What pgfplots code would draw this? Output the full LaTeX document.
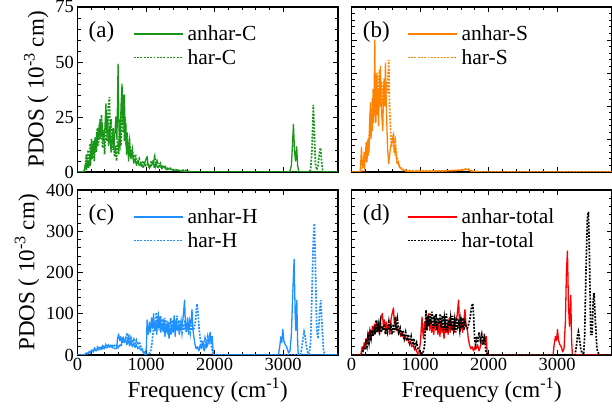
\documentclass[border=0pt]{standalone}
\usepackage{fontspec}
\setmainfont{Liberation Serif}
\usepackage{pgfplots}
\pgfplotsset{compat=1.18}

\definecolor{cgreen}{RGB}{25,150,25}
\definecolor{corange}{RGB}{255,130,0}
\definecolor{cblue}{RGB}{30,144,255}
\definecolor{cred}{RGB}{255,0,0}

\tikzset{
  sol/.style={line width=1.3pt, line join=round},
  dot/.style={line width=1.7pt, dash pattern=on 1.9pt off 1.4pt},
  plab/.style={anchor=west, inner sep=0pt, font=\fontsize{23}{26}\selectfont},
}
\pgfplotsset{
 legend image code/.code={\draw[#1] (0pt,0pt) -- (49pt,0pt);},
 pdos/.style={
  scale only axis, width=260.5pt, height=165pt,
  xmin=0, xmax=3800, ymin=0,
  xtick={0,1000,2000,3000}, minor x tick num=4, minor y tick num=4,
  tick align=inside,
  major tick length=5pt, minor tick length=3pt,
  axis line style={line width=1.2pt},
  every tick/.style={line width=0.9pt, black},
  tick label style={font=\fontsize{18.5}{21}\selectfont},
  /pgf/number format/assume math mode=true,
  /pgf/number format/1000 sep={},
  label style={font=\fontsize{23}{26}\selectfont},
  legend style={draw=none, fill=none, font=\fontsize{21.5}{24}\selectfont,
    at={(rel axis cs:0.212,0.893)}, anchor=north west, inner sep=0pt,
    nodes={inner sep=1pt}, row sep=5pt, column sep=3pt},
  legend cell align=left,
 },
}

\begin{document}
\begin{tikzpicture}
\path[use as bounding box] (0,0) rectangle (612pt,417pt);

% ---------------- (a) C
\begin{axis}[pdos, at={(77.5pt,245pt)}, anchor=south west,
  ymax=75, ytick={0,25,50,75}, xticklabels={},
  ylabel={PDOS ( 10\textsuperscript{-3} cm)}]
\addplot[cgreen, sol] coordinates {
(0,0) (80,0) (100,1) (120,4) (130,1) (150,5) (165,2) (180,8) (190,3) (205,11)
(215,6) (230,14) (240,8) (255,15) (265,10) (280,18) (290,12) (300,20) (310,15)
(330,24) (345,17) (360,22) (375,14) (400,20) (415,31) (425,18) (440,25) (455,12)
(470,20) (490,9) (510,18) (530,10) (560,25) (575,15) (592,49) (605,20) (620,10)
(635,30) (650,40) (660,22) (670,28) (684,35) (695,15) (705,22) (715,8) (730,14)
(745,5) (760,12) (780,6) (800,10) (820,4) (840,6) (860,3) (880,5) (900,3) (930,4)
(960,2) (990,5) (1015,7) (1030,3) (1050,2) (1080,3) (1100,5) (1120,2) (1140,4)
(1170,2) (1200,3) (1230,1.5) (1260,2.5) (1300,1) (1340,1.5) (1400,0.8) (1450,1)
(1500,0.5) (1600,0.2) (1700,0) (3080,0) (3100,0.5) (3120,3) (3135,12) (3150,21.7)
(3165,10) (3180,5) (3198,11.5) (3210,3) (3230,0) (3800,0)};
\addlegendentry{anhar-C}
\addplot[cgreen, dot] coordinates {
(0,0) (100,0) (115,3) (130,8) (140,2) (155,10) (170,4) (185,13) (195,6) (205,15)
(215,8) (230,12) (245,5) (260,16) (275,9) (290,20) (305,12) (320,22) (335,15)
(350,26) (365,11) (380,19) (395,8) (415,24) (430,14) (450,30) (466,34) (475,18)
(490,24) (505,10) (520,20) (540,7) (555,12) (570,5) (585,15) (600,8) (620,24)
(635,12) (650,33) (660,18) (674,35) (685,14) (695,25) (710,12) (725,18) (740,9)
(760,14) (780,6) (800,10) (820,5) (845,8) (870,4) (900,6) (930,3) (960,5) (990,3)
(1020,4) (1050,2) (1080,5) (1100,4) (1126,7) (1140,3) (1160,5) (1185,2.5) (1210,4)
(1240,2) (1270,3) (1300,1.5) (1340,2) (1380,1) (1420,1.2) (1460,0.8) (1500,0.6)
(1560,1) (1600,0.3) (1700,0) (3380,0) (3400,1) (3420,10) (3440,30.5) (3455,18)
(3470,4) (3490,1) (3510,3) (3530,9) (3545,11) (3560,5) (3580,0) (3800,0)};
\addlegendentry{har-C}
\node[plab] at (rel axis cs:0.042,0.848) {(a)};
\end{axis}

% ---------------- (b) S
\begin{axis}[pdos, at={(351.5pt,245pt)}, anchor=south west,
  ymax=100, ytick={0,20,40,60,80,100}, xticklabels={}, yticklabels={}]
\addplot[corange, sol] coordinates {
(0,0) (120,0) (131,2) (146,15) (155,5) (170,3) (185,12) (200,8) (214,18) (225,6)
(240,20) (255,12) (265,30) (277,42) (285,20) (295,38) (305,25) (315,50) (325,30)
(340,80) (348,40) (355,30) (365,55) (375,35) (385,50) (395,28) (408,58) (415,40)
(422,64) (430,45) (440,35) (456,25) (465,45) (475,55) (485,40) (495,66) (505,45)
(515,30) (525,15) (543,5) (555,10) (570,15) (590,18) (612,23) (625,12) (640,15)
(650,10) (665,5) (680,6) (699,3) (720,2) (750,1.5) (796,0.5) (900,0.3) (1000,0.5)
(1200,0.5) (1400,0.7) (1550,1) (1620,1.2) (1694,1.6) (1720,0.8) (1800,0.3)
(1900,0) (3800,0)};
\addlegendentry{anhar-S}
\addplot[corange, dot] coordinates {
(0,0) (140,0) (160,3) (175,8) (190,4) (205,12) (215,6) (230,15) (245,10) (260,22)
(275,35) (290,28) (305,45) (320,35) (335,50) (350,40) (369,60) (380,45) (395,50)
(408,62) (420,48) (435,55) (450,40) (465,52) (480,57) (495,42) (510,55) (525,48)
(543,68) (555,40) (570,25) (585,15) (600,20) (612,22) (625,14) (640,18) (655,10)
(670,8) (690,5) (710,3) (740,1.5) (800,1) (900,0.8) (1000,0.7) (1100,0.6)
(1200,0.7) (1300,0.6) (1400,0.8) (1500,0.9) (1600,1.2) (1680,2) (1720,1.5)
(1760,0.5) (1850,0.2) (1900,0) (3800,0)};
\addlegendentry{har-S}
\node[plab] at (rel axis cs:0.043,0.848) {(b)};
\end{axis}

% ---------------- (c) H
\begin{axis}[pdos, at={(77.5pt,62pt)}, anchor=south west,
  ymax=400, ytick={0,100,200,300,400},
  xlabel={Frequency (cm\textsuperscript{-1})},
  ylabel={PDOS ( 10\textsuperscript{-3} cm)}]
\addplot[cblue, sol] coordinates {
(0,0) (90,0) (110,2) (130,5) (150,3) (170,8) (190,6) (210,12) (230,8) (250,14)
(270,10) (290,15) (310,12) (330,17) (350,13) (370,18) (390,15) (410,20) (430,17)
(450,22) (470,19) (490,21) (510,18) (530,17) (550,15) (570,16) (585,40) (601,51)
(615,35) (630,45) (645,28) (660,42) (680,30) (700,40) (720,25) (740,35) (760,22)
(780,32) (800,20) (820,28) (840,18) (860,25) (880,15) (900,20) (920,12) (940,14)
(960,6) (975,3) (990,0) (1005,20) (1015,85) (1025,60) (1035,50) (1050,80)
(1065,55) (1080,90) (1095,65) (1110,100) (1125,60) (1140,80) (1155,50) (1170,85)
(1185,65) (1200,90) (1215,55) (1230,75) (1245,60) (1260,85) (1275,45) (1290,70)
(1305,55) (1320,80) (1335,40) (1350,65) (1365,50) (1380,75) (1395,55) (1410,95)
(1425,45) (1440,85) (1455,60) (1470,70) (1485,50) (1500,80) (1520,60) (1540,90)
(1562,133) (1575,70) (1590,60) (1605,90) (1620,50) (1640,85) (1655,75) (1670,110)
(1685,60) (1700,40) (1715,25) (1730,15) (1750,20) (1770,10) (1790,25) (1810,15)
(1830,30) (1850,10) (1870,25) (1890,20) (1910,35) (1937,55) (1950,30) (1966,45)
(1980,0) (2930,0) (2950,20) (2966,44) (2980,30) (2995,62) (3010,35) (3030,25)
(3050,20) (3062,14) (3080,5) (3100,10) (3120,50) (3140,150) (3160,232) (3175,100)
(3185,60) (3199,133) (3210,40) (3220,0) (3800,0)};
\addlegendentry{anhar-H}
\addplot[cblue, dot] coordinates {
(0,0) (130,0) (150,4) (170,8) (190,5) (210,14) (230,9) (250,16) (270,12) (290,19)
(310,14) (330,21) (350,16) (370,22) (390,18) (410,25) (430,20) (450,24) (470,21)
(490,26) (510,22) (530,25) (550,20) (570,23) (590,18) (610,25) (630,20) (650,30)
(670,40) (690,30) (710,45) (723,53) (735,38) (750,45) (765,32) (780,42) (800,30)
(820,38) (840,28) (860,36) (880,25) (900,32) (920,22) (940,15) (960,10) (980,5)
(1000,3) (1030,2) (1060,5) (1080,20) (1100,50) (1120,80) (1135,60) (1150,103)
(1165,70) (1180,90) (1195,60) (1210,95) (1225,75) (1240,88) (1255,55) (1270,90)
(1285,70) (1300,85) (1315,50) (1330,80) (1345,65) (1360,90) (1375,60) (1390,85)
(1405,55) (1420,80) (1435,70) (1450,95) (1465,60) (1480,85) (1495,65) (1510,80)
(1525,55) (1540,75) (1555,60) (1570,85) (1585,55) (1600,70) (1615,65) (1630,80)
(1645,55) (1660,75) (1680,60) (1700,65) (1720,80) (1743,124) (1760,100) (1775,60)
(1790,40) (1805,25) (1820,35) (1840,20) (1860,40) (1880,25) (1900,45) (1920,30)
(1940,40) (1960,15) (1980,5) (2000,0) (3250,0) (3270,15) (3290,40) (3305,56)
(3320,45) (3340,20) (3360,5) (3380,2) (3400,30) (3420,150) (3440,280) (3456,319)
(3470,220) (3490,60) (3510,40) (3530,100) (3548,133) (3565,80) (3590,10) (3611,0)
(3800,0)};
\addlegendentry{har-H}
\node[plab] at (rel axis cs:0.042,0.848) {(c)};
\end{axis}

% ---------------- (d) total
\begin{axis}[pdos, at={(351.5pt,62pt)}, anchor=south west,
  ymax=400, ytick={0,100,200,300,400}, yticklabels={},
  xlabel={Frequency (cm\textsuperscript{-1})}]
\addplot[cred, sol] coordinates {
(0,0) (130,0) (141,5) (155,20) (170,10) (185,30) (200,20) (215,40) (230,28)
(245,55) (260,35) (275,60) (290,45) (305,70) (320,50) (335,75) (350,55) (365,80)
(380,60) (395,70) (410,50) (425,85) (450,101) (465,70) (480,85) (495,55) (510,80)
(525,60) (545,75) (560,50) (575,85) (592,100) (612,114) (625,75) (640,90) (655,60)
(670,70) (685,50) (700,60) (720,45) (740,55) (760,40) (780,48) (800,35) (820,42)
(840,28) (860,33) (880,20) (900,25) (920,12) (940,15) (960,5) (980,0) (1005,30)
(1029,92) (1040,55) (1050,40) (1065,80) (1080,60) (1095,90) (1110,70) (1125,100)
(1140,60) (1155,85) (1170,55) (1185,75) (1200,50) (1215,90) (1230,60) (1245,80)
(1260,50) (1275,75) (1290,45) (1305,85) (1320,55) (1335,70) (1350,40) (1365,80)
(1380,55) (1395,70) (1410,50) (1425,90) (1440,55) (1455,80) (1470,60) (1485,75)
(1500,55) (1520,85) (1540,95) (1562,133) (1575,75) (1590,60) (1605,90) (1620,55)
(1640,85) (1655,110) (1670,75) (1690,60) (1704,40) (1720,25) (1740,15) (1760,20)
(1780,10) (1800,20) (1820,15) (1840,25) (1860,10) (1880,20) (1900,35) (1920,30)
(1936,50) (1950,30) (1966,45) (1980,0) (2940,0) (2956,25) (2975,45) (2990,35)
(3005,62) (3020,35) (3040,25) (3060,20) (3080,8) (3100,15) (3120,80) (3135,200)
(3150,252) (3165,120) (3180,70) (3198,145) (3210,40) (3222,0) (3800,0)};
\addlegendentry{anhar-total}
\addplot[black, dot] coordinates {
(0,0) (150,0) (165,8) (180,20) (195,12) (210,30) (225,20) (240,45) (255,30)
(270,55) (285,40) (300,60) (315,45) (330,70) (345,50) (360,85) (375,55) (390,75)
(405,60) (420,80) (435,55) (450,70) (465,60) (480,75) (495,50) (510,65) (525,55)
(545,80) (560,60) (575,70) (590,50) (610,75) (625,55) (640,93) (655,60) (670,85)
(690,55) (710,65) (730,45) (750,60) (770,40) (790,55) (810,35) (830,50) (850,30)
(870,45) (890,25) (910,40) (930,20) (950,30) (970,15) (990,10) (1010,5) (1040,3)
(1065,20) (1087,109) (1100,60) (1115,95) (1130,70) (1145,100) (1160,75)
(1175,105) (1190,65) (1205,95) (1220,70) (1235,100) (1250,60) (1265,90) (1280,75)
(1295,100) (1310,65) (1325,95) (1340,60) (1355,90) (1370,70) (1385,100) (1400,55)
(1415,85) (1430,70) (1445,90) (1460,60) (1475,95) (1490,65) (1505,85) (1520,55)
(1535,90) (1550,70) (1565,80) (1580,60) (1595,85) (1610,65) (1625,90) (1640,60)
(1655,80) (1670,70) (1690,65) (1710,75) (1730,90) (1750,115) (1767,125)
(1780,100) (1795,40) (1810,25) (1825,45) (1840,30) (1860,55) (1880,35) (1900,50)
(1920,25) (1940,40) (1960,10) (1980,0) (3260,0) (3280,20) (3295,45) (3310,56)
(3325,40) (3345,15) (3365,3) (3385,0) (3400,40) (3420,200) (3440,330) (3456,347)
(3470,250) (3490,50) (3510,50) (3525,130) (3538,150) (3555,90) (3580,15) (3611,0)
(3800,0)};
\addlegendentry{har-total}
\node[plab] at (rel axis cs:0.043,0.848) {(d)};
\end{axis}
\end{tikzpicture}
\end{document}
